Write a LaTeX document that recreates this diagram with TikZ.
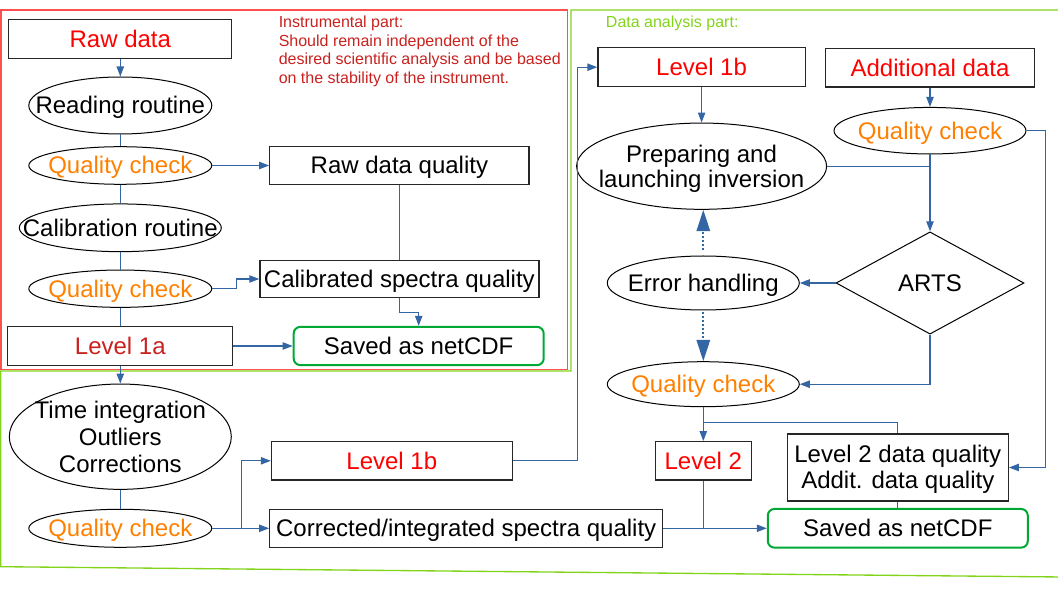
\documentclass[tikz,border=0pt]{standalone}
\usepackage{fontspec}
\setmainfont{Liberation Sans}
\usetikzlibrary{shapes.geometric,arrows.meta}
\definecolor{conn}{HTML}{3465A4}
\definecolor{orng}{HTML}{FF8000}
\definecolor{dred}{HTML}{C9211E}
\definecolor{lgreen}{HTML}{81D41A}
\definecolor{sgreen}{HTML}{00A933}
\definecolor{boxred}{HTML}{FF5050}
\begin{document}
\begin{tikzpicture}[x=0.75pt,y=-0.75pt,
  every node/.style={inner sep=0pt, font=\fontsize{18}{20}\selectfont},
  sl/.style={text height=16.3pt, text depth=3.8pt},
  box/.style={draw=black!85, line width=0.9pt, rectangle, sl},
  ell/.style={draw=black, line width=0.75pt, ellipse},
  savebox/.style={draw=sgreen, line width=1.5pt, rounded corners=5pt, sl},
  txt/.style={sl},
  qtxt/.style={text=orng, sl},
  con/.style={draw=conn, line width=0.9pt},
  arr/.style={con, -{Triangle[length=7.5pt,width=5.5pt]}},
  dotarr/.style={draw=conn, line width=1.6pt, dash pattern=on 1.5pt off 1.5pt, -{Triangle[length=16pt,width=10pt]}}
]
\useasboundingbox (0,0) rectangle (1058,595);

% frames
\draw[boxred, line width=1pt] (1,10) rectangle (567.5,369.3);
\draw[lgreen, line width=1pt] (1062,10) -- (571,10) -- (571,371) -- (0.8,371) -- (0.8,566.7) -- (1062,577);

\node[anchor=north west, align=left, text=dred, font=\fontsize{12}{13.8}\selectfont] (note1) at (278.5,16)
  {Instrumental part:\\Should remain independent of the\\desired scientific analysis and be based\\on the stability of the instrument.};
\node[anchor=west, text=lgreen, font=\fontsize{12}{13.5}\selectfont] (note2) at (605.7,23.3) {Data analysis part:};

% left column
\node[box, minimum width=167.25pt, minimum height=29.25pt, text=red] (raw) at (120.3,38.8) {Raw data};
\node[ell, minimum width=137.25pt, minimum height=42.75pt] (read) at (120.3,105.5) {};
\node[txt] (readt) at (read) {Reading routine};
\node[ell, minimum width=137.25pt, minimum height=28.2pt] (qc1) at (120.3,165.5) {};
\node[qtxt] (qc1t) at (qc1) {Quality check};
\node[ell, minimum width=151.5pt, minimum height=35.8pt] (cal) at (120.3,227.8) {};
\node[txt] (calt) at (cal) {Calibration routine};
\node[ell, minimum width=137.25pt, minimum height=28pt] (qc2) at (120.3,288.7) {};
\node[qtxt] (qc2t) at (qc2) {Quality check};
\node[box, minimum width=168.75pt, minimum height=28.7pt, text=dred] (l1a) at (120.3,346) {Level 1a};

\node[box, minimum width=194.5pt, minimum height=28.2pt] (rdq) at (399.4,165.5) {Raw data quality};
\node[box, minimum width=209.25pt, minimum height=28.3pt] (csq) at (399.4,279) {Calibrated spectra quality};
\node[savebox, minimum width=187.5pt, minimum height=28.7pt] (sav1) at (418.7,346) {Saved as netCDF};

\node[ell, minimum width=166.5pt, minimum height=79pt] (ti) at (120.3,436.7) {};
\node[align=center, font=\fontsize{18}{20.25}\selectfont] (tit) at (ti) {Time integration\\Outliers\\Corrections};
\node[ell, minimum width=137.25pt, minimum height=28.5pt] (qc3) at (120.3,528.3) {};
\node[qtxt] (qc3t) at (qc3) {Quality check};
\node[box, minimum width=180.5pt, minimum height=28.7pt, text=red] (l1bl) at (391.8,460.8) {Level 1b};
\node[box, minimum width=294.75pt, minimum height=28.5pt] (cor) at (466.2,528.3) {Corrected/integrated spectra quality};

% right part
\node[box, minimum width=155.5pt, minimum height=29.25pt, text=red] (l1bt) at (701.6,67.2) {Level 1b};
\node[box, minimum width=156.5pt, minimum height=29pt, text=red] (add) at (930,67.7) {Additional data};
\node[ell, minimum width=144pt, minimum height=34.9pt] (qcr1) at (930,130.7) {};
\node[qtxt] (qcr1t) at (qcr1) {Quality check};
\node[ell, minimum width=187.5pt, minimum height=64.7pt] (prep) at (701.6,166.2) {};
\node[align=center, font=\fontsize{18}{19}\selectfont, yshift=-1.9pt] (prept) at (prep) {Preparing and\\launching inversion};
\node[diamond, draw=black, line width=0.75pt, minimum width=141pt, minimum height=76.7pt, sl] (arts) at (930,283) {ARTS};
\node[ell, minimum width=144pt, minimum height=40.5pt] (err) at (703.3,283) {};
\node[txt] (errt) at (err) {Error handling};
\node[ell, minimum width=144pt, minimum height=33.75pt] (qcr2) at (703.3,384.2) {};
\node[qtxt] (qcr2t) at (qcr2) {Quality check};
\node[box, minimum width=72.3pt, minimum height=28.7pt, text=red] (l2) at (703.3,460.8) {Level 2};
\node[draw=black!85, line width=0.9pt, minimum width=165.75pt, minimum height=50.25pt] (l2dq) at (897.8,467.5) {};
\node[align=center, font=\fontsize{18}{19.5}\selectfont, yshift=-1.6pt] (l2dqt) at (l2dq) {Level 2 data quality\\Addit. data quality};
\node[savebox, minimum width=195pt, minimum height=29pt] (sav2) at (897.8,528.3) {Saved as netCDF};

% connectors left
\draw[arr] (raw) -- (read);
\draw[con] (read) -- (qc1);
\draw[con] (qc1) -- (cal);
\draw[con] (cal) -- (qc2);
\draw[con] (qc2) -- (l1a);
\draw[arr] (qc1) -- (rdq);
\draw[arr] (qc2.east) -- ++(24,0) |- (csq.west);
\draw[con] (rdq) -- (csq);
\draw[arr] (csq.south) -- ++(0,14) -| (sav1.north);
\draw[arr] (l1a) -- (sav1);
\draw[arr] (l1a) -- (ti);
\draw[con] (ti) -- (qc3);
\draw[arr] (qc3) -- (cor);
\draw[arr] (qc3.east) -- ++(29.5,0) |- (l1bl.west);
\draw[arr] (l1bl.east) -- ++(64.5,0) |- (l1bt.west);

% connectors right
\draw[arr] (l1bt) -- (prep);
\draw[arr] (add) -- (qcr1);
\draw[arr] (qcr1) -- (arts);
\draw[con] (prep.east) -- (prep.east -| arts.north);
\draw[arr] (arts.west) -- (err.east);
\draw[dotarr, shorten <=4pt] (err.north) -- (err.north |- prep.south);
\draw[dotarr, shorten <=1.5pt] (err.south) -- (qcr2.north);
\draw[arr] (arts.south) |- (qcr2.east);
\draw[arr] (qcr1.east) -- ++(19,0) |- (l2dq.east);
\draw[arr] (qcr2.south) -- (l2.north);
\coordinate (j1) at (703.3,422.7);
\draw[con] (j1) -| (l2dq.north);
\draw[con] (l2dq) -- (sav2);
\draw[arr] (cor) -- (sav2);
\draw[con] (l2.south) -- (l2.south |- cor.east);
\end{tikzpicture}
\end{document}
